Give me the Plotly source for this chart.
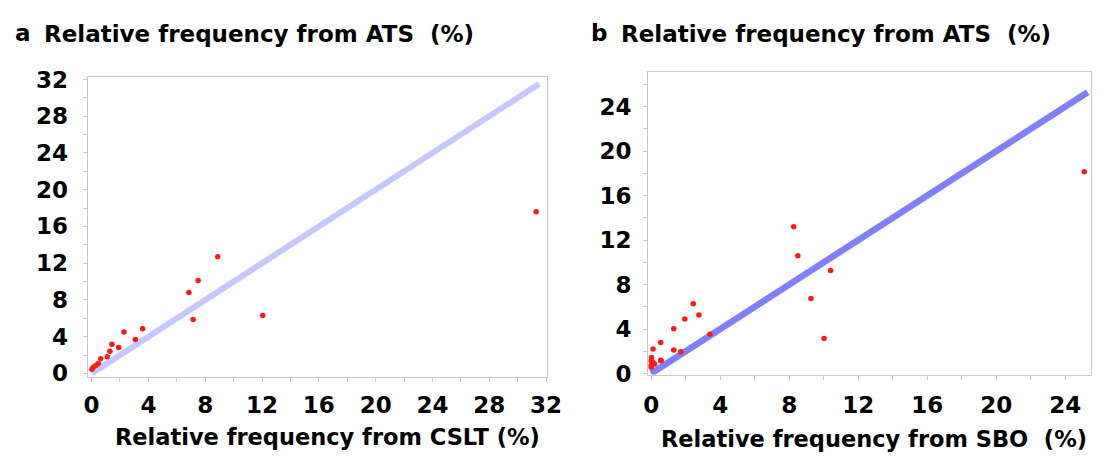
import plotly.graph_objects as go

# ---------------- data ----------------
# Panel a: CSLT (x) vs ATS (y)
a_x = [31.3, 8.88, 7.5, 6.85, 7.15, 12.05, 3.59, 2.28, 3.08, 1.91, 1.43, 1.29, 1.1, 0.64, 0.47, 0.30, 0.12, 0.02]
a_y = [17.6, 12.7, 10.1, 8.8, 5.87, 6.3, 4.85, 4.5, 3.7, 2.83, 3.16, 2.42, 1.8, 1.59, 1.07, 0.87, 0.66, 0.45]
a_ref = [0, 31.5]            # identity line end points

# Panel b: SBO (x) vs ATS (y)
b_x = [25.1, 8.26, 8.5, 10.4, 9.26, 10.02, 2.44, 1.95, 2.77, 1.31, 0.55, 1.31, 1.72, 3.41, 0.11,
       0.55, 0.02, 0.0, 0.11, 0.0, 0.0, 0.2, 0.58]
b_y = [18.15, 13.2, 10.6, 9.26, 6.75, 3.14, 6.27, 4.9, 5.27, 4.03, 2.8, 2.12, 1.95, 3.53, 2.21,
       1.2, 1.43, 1.15, 1.0, 0.72, 0.57, 0.85, 1.15]
b_ref = [0, 25.3]

a_ticks = [0, 4, 8, 12, 16, 20, 24, 28, 32]
b_ticks = [0, 4, 8, 12, 16, 20, 24]
a_small_ticks = list(range(0, 32, 2))

title_y = "Relative frequency from ATS\u00a0\u00a0(%)"
title_xa = "Relative frequency from CSLT (%)"
title_xb = "Relative frequency from SBO\u00a0\u00a0(%)"

# ---------------- figure ----------------
# the page body keeps its default 8px margin, so the figure is 16px smaller
OFF = 8
W, H = 1115 - 2 * OFF, 465 - 2 * OFF
FONT = "DejaVu Sans"
fig = go.Figure()

fig.add_trace(go.Scatter(x=a_ref, y=a_ref, mode="lines", xaxis="x", yaxis="y",
                         line=dict(color="rgba(100,100,255,0.36)", width=6), hoverinfo="skip"))
fig.add_trace(go.Scatter(x=a_x, y=a_y, mode="markers", xaxis="x", yaxis="y",
                         marker=dict(color="#ff1a1a", size=5.5, line=dict(width=0))))
fig.add_trace(go.Scatter(x=b_ref, y=b_ref, mode="lines", xaxis="x2", yaxis="y2",
                         line=dict(color="rgba(50,50,255,0.62)", width=6.5), hoverinfo="skip"))
fig.add_trace(go.Scatter(x=b_x, y=b_y, mode="markers", xaxis="x2", yaxis="y2",
                         marker=dict(color="#ff1a1a", size=5.5, line=dict(width=0))))


def px(v):
    return min(1.0, max(0.0, (v - OFF) / W))


def py(v):
    return min(1.0, max(0.0, 1 - (v - OFF) / H))


axis_common = dict(showgrid=False, zeroline=False, showline=True, linecolor="#c9c9c9",
                   linewidth=1, mirror=True, ticks="outside", ticklen=4, tickcolor="#c9c9c9",
                   tickfont=dict(family=FONT, size=23, color="black", weight="bold"),
                   minor=dict(ticks="outside", dtick=2, ticklen=4, tickcolor="#c9c9c9"))

fig.update_layout(
    width=W, height=H, margin=dict(l=0, r=0, t=0, b=0),
    paper_bgcolor="white", plot_bgcolor="white", showlegend=False,
    xaxis=dict(domain=[px(84), px(552)], range=[-0.28, 32.07], tickvals=a_ticks,
               anchor="y", ticklabelstandoff=4, **axis_common),
    yaxis=dict(domain=[py(385), py(70)], range=[-0.34, 32.27], tickvals=a_ticks,
               anchor="x", ticklabelstandoff=10, **axis_common),
    yaxis3=dict(overlaying="y", anchor="x", side="left", range=[-0.34, 32.27],
                tickvals=a_small_ticks, showgrid=False, zeroline=False, showline=False,
                ticks="", tickfont=dict(family=FONT, size=6, color="#b0b0b0"),
                ticklabelstandoff=0),
    xaxis2=dict(domain=[px(655), px(1106)], range=[-0.17, 25.49], tickvals=b_ticks,
                anchor="y2", ticklabelstandoff=6, **axis_common),
    yaxis2=dict(domain=[py(383), py(65)], range=[-0.1, 27.1], tickvals=b_ticks,
                anchor="x2", ticklabelstandoff=7, **axis_common),
)

ann_font = dict(family=FONT, size=23, color="black", weight="bold")
xt_font = dict(family=FONT, size=22.5, color="black", weight="bold")
fig.add_annotation(x=px(8), y=py(24), xref="paper", yref="paper", text="a", showarrow=False,
                   xanchor="left", yanchor="middle", font=ann_font)
fig.add_annotation(x=px(38), y=py(25), xref="paper", yref="paper", text=title_y, showarrow=False,
                   xanchor="left", yanchor="middle", font=ann_font)
fig.add_annotation(x=px(595), y=py(24), xref="paper", yref="paper", text="b", showarrow=False,
                   xanchor="left", yanchor="middle", font=ann_font)
fig.add_annotation(x=px(625), y=py(25), xref="paper", yref="paper", text=title_y, showarrow=False,
                   xanchor="left", yanchor="middle", font=ann_font)
fig.add_annotation(x=px(328), y=py(449), xref="paper", yref="paper", text=title_xa, showarrow=False,
                   xanchor="center", yanchor="middle", font=xt_font)
fig.add_annotation(x=px(885), y=py(451), xref="paper", yref="paper", text=title_xb, showarrow=False,
                   xanchor="center", yanchor="middle", font=xt_font)

fig.write_html("out.html", config={"displayModeBar": False})
